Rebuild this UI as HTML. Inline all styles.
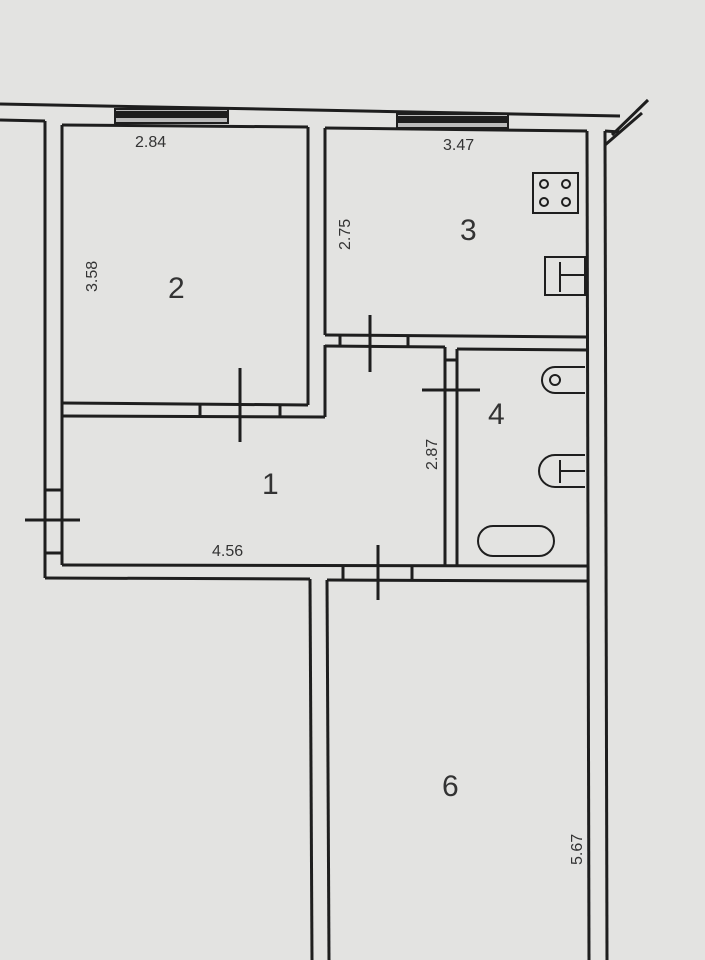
<!DOCTYPE html><html><head><style>body{margin:0;background:#e3e3e1}svg{display:block}text{font-family:"Liberation Sans",sans-serif;fill:#333}</style></head><body>
<svg width="705" height="960" viewBox="0 0 705 960" xmlns="http://www.w3.org/2000/svg">
<rect width="705" height="960" fill="#e3e3e1"/>
<g stroke="#1e1e1e" stroke-width="3" fill="none">
<line x1="0" y1="104" x2="620" y2="116"/>
<line x1="0" y1="120" x2="45" y2="121"/>
<line x1="62" y1="125" x2="308" y2="127"/>
<line x1="325" y1="128" x2="587" y2="131"/>
<line x1="605" y1="131" x2="620" y2="132"/>
<line x1="612" y1="135" x2="648" y2="100"/><line x1="605" y1="145" x2="642" y2="113"/>
<line x1="45" y1="121" x2="45" y2="578"/>
<line x1="62" y1="125" x2="62" y2="565"/>
<line x1="62" y1="403" x2="308" y2="405"/>
<line x1="62" y1="416" x2="325" y2="417"/>
<line x1="308" y1="127" x2="308" y2="405"/>
<line x1="325" y1="128" x2="325" y2="335"/>
<line x1="325" y1="345" x2="325" y2="417"/>
<line x1="587" y1="131" x2="589" y2="960"/>
<line x1="605" y1="131" x2="607" y2="960"/>
<line x1="325" y1="335" x2="587" y2="337"/>
<line x1="325" y1="346" x2="445" y2="347"/>
<line x1="457" y1="349" x2="587" y2="350"/>
<line x1="445" y1="347" x2="445" y2="565"/>
<line x1="457" y1="349" x2="457" y2="565"/>
<line x1="62" y1="565" x2="588" y2="566"/>
<line x1="45" y1="578" x2="310" y2="579"/>
<line x1="327" y1="580" x2="588" y2="581"/>
<line x1="310" y1="579" x2="312" y2="960"/>
<line x1="327" y1="580" x2="329" y2="960"/>
<line x1="240" y1="368" x2="240" y2="442"/><line x1="200" y1="405" x2="200" y2="416"/><line x1="280" y1="405" x2="280" y2="416"/>
<line x1="370" y1="315" x2="370" y2="372"/><line x1="340" y1="336" x2="340" y2="346"/><line x1="408" y1="336" x2="408" y2="346"/>
<line x1="422" y1="390" x2="480" y2="390"/><line x1="445" y1="360" x2="457" y2="360"/>
<line x1="378" y1="545" x2="378" y2="600"/><line x1="343" y1="566" x2="343" y2="579"/><line x1="412" y1="566" x2="412" y2="579"/>
<line x1="25" y1="520" x2="80" y2="520"/><line x1="45" y1="490" x2="62" y2="490"/><line x1="45" y1="553" x2="62" y2="553"/>
<rect x="533" y="173" width="45" height="40" stroke-width="2"/>
<circle cx="544" cy="184" r="4" stroke-width="2"/><circle cx="566" cy="184" r="4" stroke-width="2"/>
<circle cx="544" cy="202" r="4" stroke-width="2"/><circle cx="566" cy="202" r="4" stroke-width="2"/>
<rect x="545" y="257" width="40" height="38" stroke-width="2"/><line x1="560" y1="262" x2="560" y2="292" stroke-width="2"/><line x1="560" y1="275" x2="585" y2="275" stroke-width="2"/>
<path d="M585 367 H555 A12 12 0 0 0 555 393 H585" stroke-width="2"/><circle cx="555" cy="380" r="5" stroke-width="2"/>
<path d="M585 455 H555 A15 15 0 0 0 555 487 H585" stroke-width="2"/><line x1="560" y1="460" x2="560" y2="483" stroke-width="2"/><line x1="560" y1="471" x2="585" y2="471" stroke-width="2"/>
<rect x="478" y="526" width="76" height="30" rx="15" stroke-width="2"/>
</g>
<rect x="115" y="109" width="113" height="14" fill="#bbb" stroke="#1e1e1e" stroke-width="2"/>
<rect x="115" y="111" width="113" height="7" fill="#1e1e1e"/>
<rect x="397" y="114" width="111" height="14" fill="#bbb" stroke="#1e1e1e" stroke-width="2"/>
<rect x="397" y="116" width="111" height="7" fill="#1e1e1e"/>
<g font-size="16">
<text x="135" y="147">2.84</text>
<text x="443" y="150">3.47</text>
<text x="212" y="556">4.56</text>
<text transform="translate(97,292) rotate(-90)">3.58</text>
<text transform="translate(350,250) rotate(-90)">2.75</text>
<text transform="translate(437,470) rotate(-90)">2.87</text>
<text transform="translate(582,865) rotate(-90)">5.67</text>
</g>
<g font-size="30">
<text x="168" y="298">2</text>
<text x="460" y="240">3</text>
<text x="262" y="494">1</text>
<text x="488" y="424">4</text>
<text x="442" y="796">6</text>
</g>
</svg></body></html>
